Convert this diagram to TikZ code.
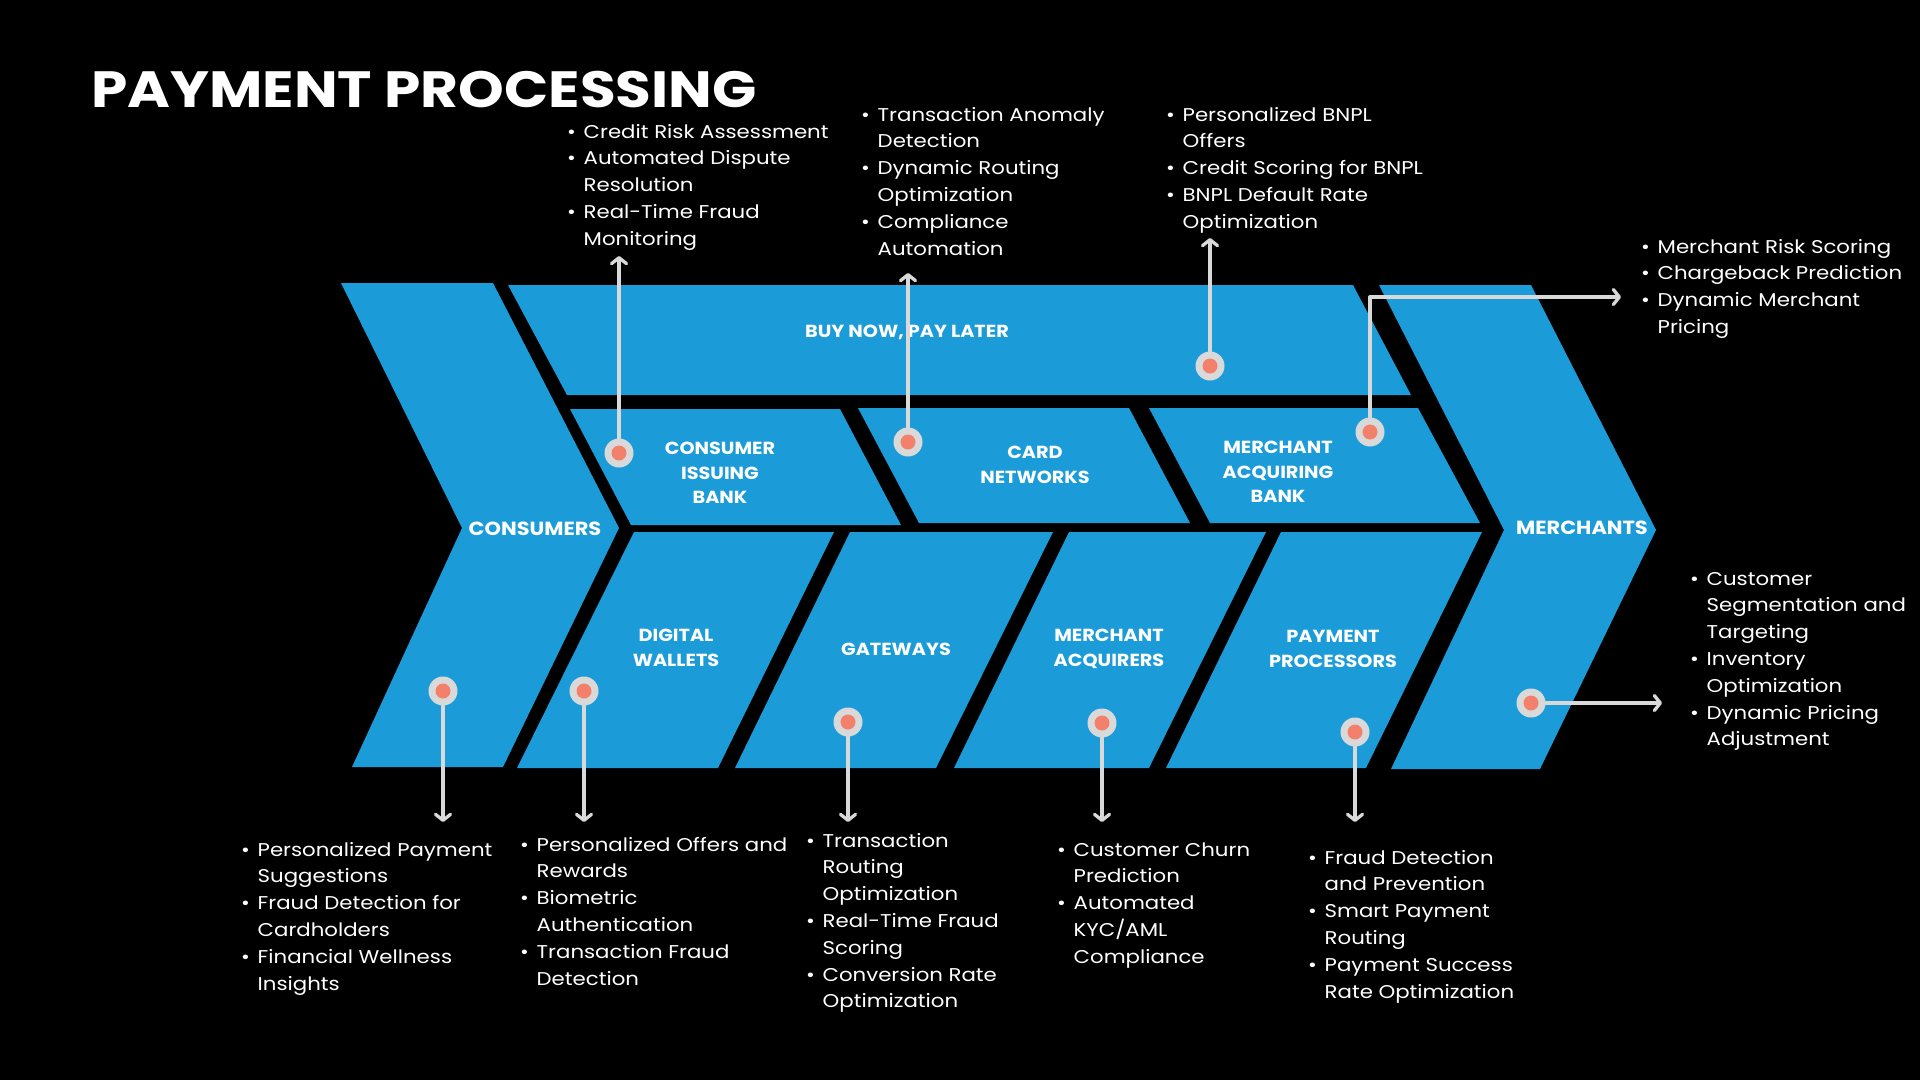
\documentclass[tikz,border=0pt]{standalone}
\usepackage{fontspec}
\setmainfont{Poppins}
\newfontfamily\listfont{Poppins}[FakeStretch=1.15]
\newfontfamily\lblfont{Poppins}[FakeStretch=1.1]
\newfontfamily\titlefont{Poppins}[FakeStretch=1.14]
\usetikzlibrary{arrows.meta}

\definecolor{bandblue}{HTML}{1B9CD9}
\definecolor{pingray}{HTML}{D9D9D9}
\definecolor{pincore}{HTML}{F2806A}

\newcommand\bl{\makebox[16.5pt][l]{\textbullet}}

\tikzset{
  band/.style={fill=bandblue},
  lbl/.style={text=white, font=\lblfont\bfseries\fontsize{17.5}{24.5}\selectfont, align=center, inner sep=0pt},
  biglbl/.style={lbl, font=\lblfont\bfseries\fontsize{19}{24.5}\selectfont},
  lst/.style={text=white, font=\listfont\fontsize{18.5}{26.8}\selectfont, anchor=base west, inner sep=0pt},
  pin/.style={circle, fill=pingray, minimum size=29pt, inner sep=0pt,
    path picture={\fill[pincore] (path picture bounding box.center) circle (7.5pt);}},
  conn/.style={draw=pingray, line width=3.3pt, line cap=round, line join=round,
    -{Straight Barb[length=6pt,width=15pt,line cap=round,line join=round]}},
}

\begin{document}
\begin{tikzpicture}[x=1pt,y=-1pt]
\fill[black] (0,0) rectangle (1920,1080);
\useasboundingbox (0,0) rectangle (1920,1080);

% title
\node[text=white, font=\titlefont\bfseries\fontsize{51}{51}\selectfont, anchor=base west, inner sep=0pt] (title) at (91,107) {PAYMENT PROCESSING};

% end chevrons
\fill[band] (341,283) -- (493,283) -- (619,528) -- (503,767) -- (352,767) -- (462,528) -- cycle;
\fill[band] (1379,285) -- (1531,285) -- (1656,530) -- (1540,769) -- (1391,769) -- (1504,530) -- cycle;

% upper bands
\fill[band] (508,285) -- (1353,285) -- (1411,395) -- (567,395) -- cycle;
\fill[band] (570,409) -- (840,409) -- (901,525) -- (631,525) -- cycle;
\fill[band] (858,408) -- (1129,408) -- (1190,523) -- (919,523) -- cycle;
\fill[band] (1149,408) -- (1418,408) -- (1480,523) -- (1210,523) -- cycle;

% lower bands
\fill[band] (634,532) -- (834,532) -- (718,768) -- (517,768) -- cycle;
\fill[band] (850,532) -- (1053,532) -- (936,768) -- (735,768) -- cycle;
\fill[band] (1069,532) -- (1266,532) -- (1149,768) -- (954,768) -- cycle;
\fill[band] (1281,532) -- (1482,532) -- (1366,768) -- (1166,768) -- cycle;

% band labels
\node[biglbl] (consumers) at (535,529) {CONSUMERS};
\node[biglbl] (merchants) at (1582,528) {MERCHANTS};
\node[lbl] (bnpl) at (907,332) {BUY NOW, PAY LATER};
\node[lbl] (cib) at (720,473) {CONSUMER\\ISSUING\\BANK};
\node[lbl] (cn) at (1035,465) {CARD\\NETWORKS};
\node[lbl] (mab) at (1278,472) {MERCHANT\\ACQUIRING\\BANK};
\node[lbl] (dw) at (676,648) {DIGITAL\\WALLETS};
\node[lbl] (gw) at (896,649) {GATEWAYS};
\node[lbl] (ma) at (1109,649) {MERCHANT\\ACQUIRERS};
\node[lbl] (pp) at (1333,649) {PAYMENT\\PROCESSORS};

% pins
\node[pin] (pCIB) at (619,453) {};
\node[pin] (pCN) at (908,442) {};
\node[pin] (pBNPL) at (1210,366) {};
\node[pin] (pMAB) at (1370,432) {};
\node[pin] (pCons) at (443,691) {};
\node[pin] (pDW) at (584,691) {};
\node[pin] (pGW) at (848,722) {};
\node[pin] (pMA) at (1102,723) {};
\node[pin] (pPP) at (1355,732) {};
\node[pin] (pMer) at (1531,703) {};

% arrow ends
\coordinate (tCIB) at (619,256);
\coordinate (tCN) at (908,273);
\coordinate (tBNPL) at (1210,238);
\coordinate (tMAB) at (1621,297);
\coordinate (tCons) at (443,822);
\coordinate (tDW) at (584,822);
\coordinate (tGW) at (848,822);
\coordinate (tMA) at (1102,822);
\coordinate (tPP) at (1355,822);
\coordinate (tMer) at (1662,703);

% connectors
\draw[conn] (pCIB) -- (tCIB);
\draw[conn] (pCN) -- (tCN);
\draw[conn] (pBNPL) -- (tBNPL);
\draw[conn] (pMAB) |- (tMAB);
\draw[conn] (pCons) -- (tCons);
\draw[conn] (pDW) -- (tDW);
\draw[conn] (pGW) -- (tGW);
\draw[conn] (pMA) -- (tMA);
\draw[conn] (pPP) -- (tPP);
\draw[conn] (pMer) -- (tMer);

% upper lists
\node[lst] (lCIB) at (567,138) {\begin{tabular}[t]{@{}l@{}l@{}}
\bl & Credit Risk Assessment\\
\bl & Automated Dispute\\
    & Resolution\\
\bl & Real-Time Fraud\\
    & Monitoring
\end{tabular}};
\node[lst] (lCN) at (861,121) {\begin{tabular}[t]{@{}l@{}l@{}}
\bl & Transaction Anomaly\\
    & Detection\\
\bl & Dynamic Routing\\
    & Optimization\\
\bl & Compliance\\
    & Automation
\end{tabular}};
\node[lst] (lBNPL) at (1166,121) {\begin{tabular}[t]{@{}l@{}l@{}}
\bl & Personalized BNPL\\
    & Offers\\
\bl & Credit Scoring for BNPL\\
\bl & BNPL Default Rate\\
    & Optimization
\end{tabular}};
\node[lst] (lMAB) at (1641,253) {\begin{tabular}[t]{@{}l@{}l@{}}
\bl & Merchant Risk Scoring\\
\bl & Chargeback Prediction\\
\bl & Dynamic Merchant\\
    & Pricing
\end{tabular}};
\node[lst] (lMer) at (1690,585) {\begin{tabular}[t]{@{}l@{}l@{}}
\bl & Customer\\
    & Segmentation and\\
    & Targeting\\
\bl & Inventory\\
    & Optimization\\
\bl & Dynamic Pricing\\
    & Adjustment
\end{tabular}};

% lower lists
\node[lst] (lCons) at (241,856) {\begin{tabular}[t]{@{}l@{}l@{}}
\bl & Personalized Payment\\
    & Suggestions\\
\bl & Fraud Detection for\\
    & Cardholders\\
\bl & Financial Wellness\\
    & Insights
\end{tabular}};
\node[lst] (lDW) at (520,851) {\begin{tabular}[t]{@{}l@{}l@{}}
\bl & Personalized Offers and\\
    & Rewards\\
\bl & Biometric\\
    & Authentication\\
\bl & Transaction Fraud\\
    & Detection
\end{tabular}};
\node[lst] (lGW) at (806,847) {\begin{tabular}[t]{@{}l@{}l@{}}
\bl & Transaction\\
    & Routing\\
    & Optimization\\
\bl & Real-Time Fraud\\
    & Scoring\\
\bl & Conversion Rate\\
    & Optimization
\end{tabular}};
\node[lst] (lMA) at (1057,856) {\begin{tabular}[t]{@{}l@{}l@{}}
\bl & Customer Churn\\
    & Prediction\\
\bl & Automated\\
    & KYC/AML\\
    & Compliance
\end{tabular}};
\node[lst] (lPP) at (1308,864) {\begin{tabular}[t]{@{}l@{}l@{}}
\bl & Fraud Detection\\
    & and Prevention\\
\bl & Smart Payment\\
    & Routing\\
\bl & Payment Success\\
    & Rate Optimization
\end{tabular}};
\end{tikzpicture}
\end{document}
